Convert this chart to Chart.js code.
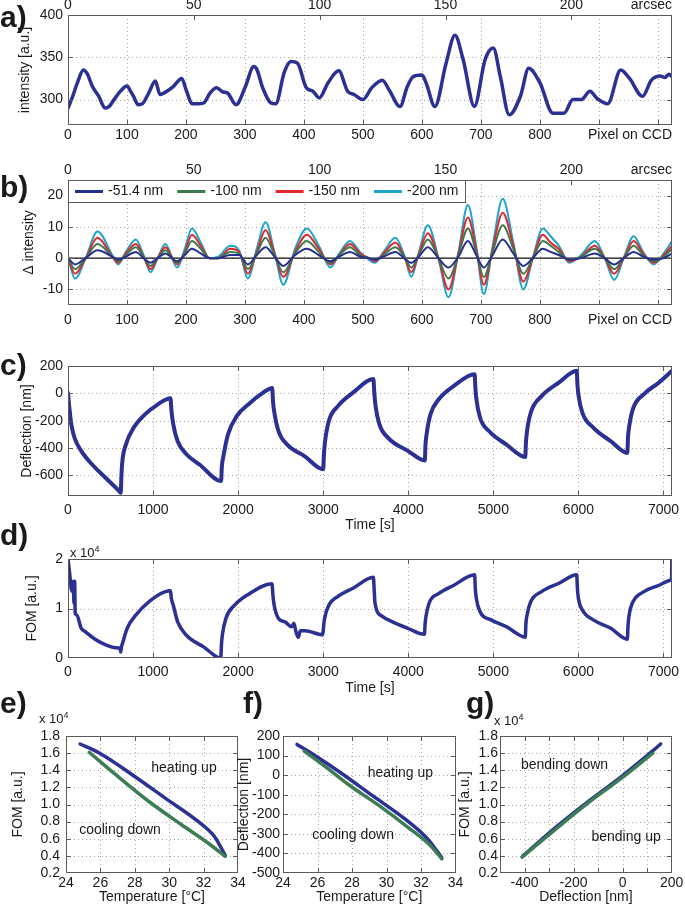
<!DOCTYPE html>
<html>
<head>
<meta charset="utf-8">
<title>Cantilever readout</title>
<script src="https://cdn.jsdelivr.net/npm/chart.js@4.4.1/dist/chart.umd.min.js"></script>
<style>
  body { margin: 0; background: #fff; font-family: "Liberation Sans", Arial, sans-serif; color: #1a1a1a; }
  #page { position: relative; width: 685px; height: 907px; overflow: hidden; background: #fff; }
  canvas { position: absolute; }
  .tag { position: absolute; font-weight: bold; font-size: 30px; line-height: 30px; }
  .exp { position: absolute; font-size: 13px; line-height: 16px; white-space: nowrap; }
  .exp sup { font-size: 9px; }
</style>
</head>
<body>
<div id="page">
  <canvas id="chartA" width="685" height="160" style="left:0;top:0"></canvas>
  <canvas id="chartB" width="685" height="170" style="left:0;top:160px"></canvas>
  <canvas id="chartC" width="685" height="195" style="left:0;top:340px"></canvas>
  <canvas id="chartD" width="685" height="160" style="left:0;top:540px"></canvas>
  <canvas id="chartE" width="250" height="207" style="left:0;top:700px"></canvas>
  <canvas id="chartF" width="237" height="207" style="left:228px;top:700px"></canvas>
  <canvas id="chartG" width="230" height="207" style="left:455px;top:700px"></canvas>

  <div class="tag" style="left:0;top:2px">a)</div>
  <div class="tag" style="left:0;top:172px">b)</div>
  <div class="tag" style="left:0;top:350px">c)</div>
  <div class="tag" style="left:0;top:520px">d)</div>
  <div class="tag" style="left:0;top:688px">e)</div>
  <div class="tag" style="left:243px;top:688px">f)</div>
  <div class="tag" style="left:466px;top:688px">g)</div>

  <div class="exp" style="left:70px;top:541px">x 10<sup>4</sup></div>
  <div class="exp" style="left:39px;top:707px">x 10<sup>4</sup></div>
  <div class="exp" style="left:494px;top:709px">x 10<sup>4</sup></div>
</div>
<script>
// ---- a) intensity along the CCD line ----
const pixA = [0, 7, 16, 26, 33, 41, 52, 63, 70, 78, 89, 100, 106, 111, 119, 126, 137, 148, 156, 163,
  178, 193, 200, 211, 220, 230, 241, 252, 263, 270, 285, 300, 315, 320, 330, 344, 352, 367, 378, 389,
  404, 415, 426, 441, 459, 474, 485, 500, 515, 533, 544, 563, 575, 585, 600, 607, 622, 641, 656, 670,
  689, 707, 721, 733, 748, 767, 781, 800, 822, 841, 856, 870, 885, 896, 915, 937, 952, 974, 989, 1004,
  1012, 1019, 1024];
const intensityA = [290, 302, 320, 335, 330, 316, 304, 290, 292, 300, 310, 316, 310, 304, 294, 295, 308, 322, 306, 308,
  315, 325, 312, 295, 295, 296, 308, 314, 309, 308, 294, 314, 339, 336, 314, 296, 295, 333, 345, 343,
  314, 310, 302, 320, 334, 310, 306, 300, 314, 323, 312, 292, 315, 327, 329, 320, 292, 343, 376, 347,
  292, 347, 361, 327, 282, 304, 337, 320, 284, 284, 300, 300, 310, 302, 295, 335, 325, 304, 323, 328,
  326, 330, 327];

// ---- b) intensity change for each deflection ----
const pixB = [0, 12, 30, 50, 75, 85, 98, 115, 128, 140, 152, 165, 185, 198, 210, 225, 240, 255, 275, 290,
  305, 320, 335, 350, 365, 385, 405, 425, 445, 460, 478, 495, 510, 520, 535, 555, 570, 582, 595, 610,
  628, 645, 662, 678, 692, 705, 720, 737, 755, 772, 788, 805, 818, 832, 850, 870, 893, 910, 926, 942,
  959, 975, 993, 1010, 1024];
const delta51 = [0, -2, 0, 2.5, 0.5, -0.5, 0.5, 2, 0, -1.5, 0, 1.5, -1, 1, 3, 1.5, 0, 0, 1, 1,
  -2, 1, 3.5, 0.5, -2.5, 1, 3, 1, -1, 0.5, 2, 0.5, 0, -0.5, 0.5, 2, 0, -1.5, 0.5, 3.5,
  0, -3, 0.5, 5.5, 1, -3, 1, 6, 1.5, -2.5, 0, 3, 2, 1, -0.5, 0, 1.5, 0, -2, 0,
  2, 0.5, -0.5, 0, 1.5];
const delta100 = [0, -3.5, 0, 4.5, 0.5, -1, 1, 3.5, 0.5, -2.5, 0, 2.5, -1.5, 1.5, 5.5, 3, 0, 0, 2, 1.5,
  -3.5, 1.5, 6.5, 1, -4.5, 1.5, 5.5, 2, -1.5, 1, 3.5, 1, 0, -0.5, 1, 3.5, 0.5, -3, 1, 6,
  0, -6.5, 1, 9.5, 2, -6, 2, 10.5, 3, -5, 0, 5.5, 4, 2, -0.5, 0.5, 3, 0, -3.5, 0,
  4, 1, -1, 0.5, 3];
const delta150 = [0, -5, 0, 6.5, 0.5, -1.5, 1.5, 4.5, 0.5, -3.5, 0, 3.5, -2, 2, 7.5, 4, 0, 0, 3, 2,
  -5, 2, 9, 1.5, -6, 2, 7.5, 3, -2, 1, 4.5, 1.5, 0, -1, 1.5, 5, 0.5, -4.5, 1.5, 8,
  0, -10, 1.5, 13, 3, -8.5, 3, 14.5, 4, -7.5, 0, 7.5, 5, 3, -1, 0.5, 4, 0, -5, 0,
  5.5, 1.5, -1.5, 1, 4];
const delta200 = [0, -6.5, 0, 8.5, 1, -2, 2, 6, 1, -4.5, 0, 4.5, -3, 3, 9.5, 5, 0, 0.5, 4, 2.5,
  -6.5, 3, 11.5, 2, -8.5, 3, 9.5, 4, -3, 1.5, 5.5, 2, -0.5, -1.5, 2, 6.5, 1, -6, 2, 10.5,
  0, -12.5, 2, 17, 4, -11.5, 4, 19, 5, -10, 0, 9.5, 7, 4, -1.5, 1, 5.5, 0, -7, 0,
  7, 2, -2, 1.5, 5.5];
const baselinePix = [0, 1024];
const baselineVal = [0, 0];

// ---- c) deflection over time ----
const timeC = [0, 15, 40, 77, 155, 284, 438, 610, 620, 628, 640, 680, 773, 902, 1057, 1205, 1215, 1237, 1289, 1392,
  1546, 1800, 1808, 1830, 1881, 1985, 2139, 2294, 2400, 2410, 2423, 2474, 2577, 2784, 3000, 3008, 3020, 3067, 3170, 3350,
  3590, 3600, 3615, 3660, 3763, 3995, 4195, 4202, 4215, 4260, 4356, 4536, 4780, 4788, 4800, 4845, 4948, 5155, 5375, 5383,
  5395, 5440, 5567, 5773, 5980, 5988, 6000, 6046, 6175, 6381, 6575, 6583, 6595, 6640, 6770, 6948, 7100];
const deflectionC = [5, -100, -230, -325, -420, -520, -615, -720, -727, -600, -490, -375, -250, -155, -80, -35, -120, -225, -350, -445,
  -520, -640, -540, -450, -300, -165, -70, 5, 40, -60, -130, -275, -375, -460, -555, -450, -360, -200, -95, 5,
  105, 10, -90, -225, -325, -420, -490, -380, -300, -155, -45, 55, 140, 50, -40, -180, -275, -375, -465, -360,
  -280, -140, -20, 80, 165, 70, -10, -140, -250, -350, -435, -320, -250, -115, -5, 80, 165];

// ---- d) figure of merit over time (x 10^4) ----
const timeD = [0, 20, 45, 62, 70, 78, 85, 103, 155, 206, 309, 464, 593, 612, 620, 628, 645, 696, 799, 954,
  1205, 1215, 1237, 1289, 1392, 1598, 1795, 1805, 1814, 1856, 1959, 2113, 2397, 2410, 2423, 2474, 2552, 2629, 2655, 2680,
  2706, 2732, 2784, 2995, 3005, 3015, 3067, 3170, 3350, 3590, 3600, 3608, 3686, 3814, 3995, 4190, 4198, 4210, 4250, 4356,
  4536, 4780, 4788, 4800, 4845, 4974, 5155, 5309, 5375, 5383, 5395, 5438, 5567, 5773, 5980, 5988, 6000, 6046, 6175, 6381,
  6575, 6583, 6595, 6640, 6770, 6948, 7080, 7095, 7098];
const fomD = [2.0, 1.7, 1.35, 1.55, 1.1, 1.55, 0.9, 0.87, 0.6, 0.53, 0.39, 0.25, 0.2, 0.2, 0.12, 0.22, 0.32, 0.6, 0.87, 1.14,
  1.36, 1.2, 1.07, 0.73, 0.46, 0.22, 0.0, 0.3, 0.46, 0.8, 1.07, 1.28, 1.5, 1.25, 1.07, 0.8, 0.73, 0.63, 0.7, 0.53,
  0.42, 0.55, 0.55, 0.47, 0.65, 0.79, 1.07, 1.24, 1.41, 1.63, 1.35, 1.12, 0.85, 0.73, 0.6, 0.48, 0.7, 0.86, 1.13, 1.3,
  1.47, 1.68, 1.4, 1.2, 0.93, 0.77, 0.63, 0.46, 0.42, 0.7, 0.86, 1.13, 1.34, 1.51, 1.68, 1.4, 1.2, 0.97, 0.77, 0.6,
  0.38, 0.65, 0.86, 1.13, 1.34, 1.47, 1.57, 1.62, 2.0];

// ---- e) f) g) heating / cooling branches ----
const tempHeatE = [24.82, 25.96, 27.87, 29.77, 31.68, 32.63, 33.26];
const fomHeatE = [1.707, 1.598, 1.345, 1.074, 0.802, 0.627, 0.406];
const tempCoolE = [25.35, 26.91, 28.82, 30.72, 32.25, 33.26];
const fomCoolE = [1.61, 1.345, 1.035, 0.763, 0.55, 0.394];
const tempHeatF = [24.81, 25.98, 27.3, 29.19, 31.08, 32.4, 33.2];
const deflHeatF = [157, 93, 15, -105, -225, -328, -422];
const tempCoolF = [25.23, 26.36, 27.87, 29.57, 31.26, 32.58, 33.2];
const deflCoolF = [123, 50, -53, -156, -268, -363, -428];
const deflHeatG = [-407, -268, -137, -5, 120, 155];
const fomHeatG = [0.40, 0.744, 1.043, 1.326, 1.62, 1.707];
const deflCoolG = [-410, -268, -137, -5, 123];
const fomCoolG = [0.386, 0.724, 1.027, 1.307, 1.6];

// ---- tick values ----
const pixelTicks = [0, 100, 200, 300, 400, 500, 600, 700, 800, 900, 1000];
const arcsecTicks = [0, 50, 100, 150, 200];
const intensityTicks = [300, 350, 400];
const deltaTicks = [-10, 0, 10, 20];
const timeTicks = [0, 1000, 2000, 3000, 4000, 5000, 6000, 7000];
const deflTicksC = [-600, -400, -200, 0, 200];
const fomTicksD = [0, 1, 2];
const tempTicks = [24, 26, 28, 30, 32, 34];
const fomTicks = [0.2, 0.4, 0.6, 0.8, 1.0, 1.2, 1.4, 1.6, 1.8];
const deflTicksF = [-500, -400, -300, -200, -100, 0, 100, 200];
const deflTicksG = [-400, -300, -200, -100, 0, 100, 200];

const FONT = '"Liberation Sans", Arial, Helvetica, sans-serif';
const INK = '#1a1a1a';
const BOX = '#5a5a5a';
const NAVY = '#2b3092';
const GREEN = '#3d7d55';

Chart.defaults.font.family = FONT;
Chart.defaults.font.size = 14;
Chart.defaults.color = INK;

// MATLAB-like axes: dotted grid, boxed frame, inward ticks, free text
const framePlugin = {
  id: 'frame',
  beforeDatasetsDraw(chart) {
    const {ctx, chartArea: a, scales} = chart;
    ctx.save();
    ctx.strokeStyle = '#a8a8a8';
    ctx.lineWidth = 1;
    ctx.setLineDash([1, 3]);
    ctx.beginPath();
    scales.x.ticks.forEach(t => {
      const px = Math.round(scales.x.getPixelForValue(t.value)) + 0.5;
      if (px < a.left + 2 || px > a.right - 2) return;
      ctx.moveTo(px, a.top); ctx.lineTo(px, a.bottom);
    });
    scales.y.ticks.forEach(t => {
      const py = Math.round(scales.y.getPixelForValue(t.value)) + 0.5;
      if (py < a.top + 2 || py > a.bottom - 2) return;
      ctx.moveTo(a.left, py); ctx.lineTo(a.right, py);
    });
    ctx.stroke();
    ctx.restore();
  },
  afterDatasetsDraw(chart, args, opts) {
    const {ctx, chartArea: a, scales} = chart;
    const tl = 5;
    ctx.save();
    ctx.setLineDash([]);
    ctx.strokeStyle = BOX;
    ctx.lineWidth = 1;
    ctx.strokeRect(Math.round(a.left) + 0.5, Math.round(a.top) + 0.5,
      Math.round(a.right - a.left) - 1, Math.round(a.bottom - a.top) - 1);
    ctx.beginPath();
    scales.x.ticks.forEach(t => {
      const px = Math.round(scales.x.getPixelForValue(t.value)) + 0.5;
      if (px < a.left + 2 || px > a.right - 2) return;
      ctx.moveTo(px, a.bottom); ctx.lineTo(px, a.bottom - tl);
      if (!scales.x2) { ctx.moveTo(px, a.top); ctx.lineTo(px, a.top + tl); }
    });
    if (scales.x2) {
      scales.x2.ticks.forEach(t => {
        const px = Math.round(scales.x2.getPixelForValue(t.value)) + 0.5;
        if (px < a.left + 2 || px > a.right - 2) return;
        ctx.moveTo(px, a.top); ctx.lineTo(px, a.top + tl);
      });
    }
    scales.y.ticks.forEach(t => {
      const py = Math.round(scales.y.getPixelForValue(t.value)) + 0.5;
      if (py < a.top + 2 || py > a.bottom - 2) return;
      ctx.moveTo(a.left, py); ctx.lineTo(a.left + tl, py);
      ctx.moveTo(a.right, py); ctx.lineTo(a.right - tl, py);
    });
    ctx.stroke();

    ctx.font = '14px ' + FONT;
    ctx.textBaseline = 'middle';

    if (opts.legend) {
      const items = chart.data.datasets.filter(d => d.label);
      const sample = 28, gap = 5, step = 14, h = 22;
      let w = 7;
      items.forEach(d => { w += sample + gap + ctx.measureText(d.label).width + step; });
      w = w - step + 7;
      ctx.fillStyle = '#fff';
      ctx.fillRect(a.left, a.top, w, h);
      ctx.strokeStyle = BOX;
      ctx.lineWidth = 1;
      ctx.strokeRect(Math.round(a.left) + 0.5, Math.round(a.top) + 0.5, Math.round(w), h);
      let x = a.left + 7;
      const ym = a.top + h / 2 + 0.5;
      items.forEach(d => {
        ctx.strokeStyle = d.borderColor;
        ctx.lineWidth = 3;
        ctx.beginPath(); ctx.moveTo(x, ym); ctx.lineTo(x + sample, ym); ctx.stroke();
        ctx.fillStyle = INK;
        ctx.textAlign = 'left';
        ctx.fillText(d.label, x + sample + gap, ym);
        x += sample + gap + ctx.measureText(d.label).width + step;
      });
    }

    ctx.fillStyle = INK;
    (opts.texts || []).forEach(t => {
      let x, y;
      if (t.corner === 'bottom') { x = a.right; y = a.bottom + t.dy; ctx.textAlign = 'right'; }
      else if (t.corner === 'top') { x = a.right; y = a.top - t.dy; ctx.textAlign = 'right'; }
      else { x = scales.x.getPixelForValue(t.x); y = scales.y.getPixelForValue(t.y); ctx.textAlign = 'center'; }
      ctx.fillText(t.text, x, y);
    });
    ctx.restore();
  }
};
Chart.register(framePlugin);

function series(xs, ys, color, width, extra) {
  return Object.assign({
    data: xs.map((x, i) => ({x: x, y: ys[i]})),
    borderColor: color,
    borderWidth: width,
    pointRadius: 0,
    fill: false,
    borderJoinStyle: 'round',
    borderCapStyle: 'round'
  }, extra || {});
}

function axisOptions(ax, position, fit) {
  const font = {family: FONT, size: 14};
  return {
    type: 'linear',
    position: position,
    min: ax.min,
    max: ax.max,
    grid: {display: false, drawTicks: false, tickLength: 0},
    border: {display: false},
    afterBuildTicks: s => { s.ticks = ax.ticks.map(v => ({value: v})); },
    afterFit: fit,
    ticks: {
      padding: ax.pad,
      autoSkip: false,
      maxRotation: 0,
      minRotation: 0,
      font: font,
      color: INK,
      callback: ax.label || (v => String(v))
    },
    title: {
      display: !!ax.title,
      text: ax.title || '',
      font: font,
      color: INK,
      padding: position === 'left' ? {top: ax.titlePad || 0, bottom: 0} : {top: 0, bottom: ax.titlePad || 0}
    }
  };
}

function panel(id, p) {
  const cv = document.getElementById(id);
  const W = cv.width, H = cv.height, A = p.area;
  const scales = {
    x: axisOptions(p.x, 'bottom', s => { s.height = H - A.bottom; }),
    y: axisOptions(p.y, 'left', s => { s.width = A.left; })
  };
  if (p.x2) scales.x2 = axisOptions(p.x2, 'top', s => { s.height = A.top; });
  return new Chart(cv, {
    type: 'line',
    data: {datasets: p.datasets},
    options: {
      responsive: false,
      animation: false,
      events: [],
      layout: {padding: {left: 0, top: p.x2 ? 0 : A.top, right: W - A.right, bottom: 0}},
      plugins: {
        legend: {display: false},
        tooltip: {enabled: false},
        frame: {texts: p.texts || [], legend: !!p.legend}
      },
      scales: scales
    }
  });
}

const hidePixelEnd = v => (v >= 900 ? '' : String(v));
const monotone = {cubicInterpolationMode: 'monotone'};

// a)
panel('chartA', {
  area: {left: 68, right: 672, top: 15, bottom: 125},
  x: {min: 0, max: 1024, ticks: pixelTicks, pad: 2, label: hidePixelEnd},
  x2: {min: 0, max: 240, ticks: arcsecTicks, pad: 1.6},
  y: {min: 270, max: 400, ticks: intensityTicks, pad: 5, title: 'intensity [a.u.]', titlePad: 17},
  datasets: [series(pixA, intensityA, NAVY, 3.5, monotone)],
  texts: [{text: 'Pixel on CCD', corner: 'bottom', dy: 10.4}, {text: 'arcsec', corner: 'top', dy: 10}]
});

// b)
panel('chartB', {
  area: {left: 68, right: 672, top: 20, bottom: 145},
  x: {min: 0, max: 1024, ticks: pixelTicks, pad: 6.6, label: hidePixelEnd},
  x2: {min: 0, max: 240, ticks: arcsecTicks, pad: 1.6},
  y: {min: -15, max: 25, ticks: deltaTicks, pad: 5, title: 'Δ intensity', titlePad: 21},
  legend: true,
  datasets: [
    series(pixB, delta51, '#262f8e', 2, {label: '-51.4 nm', cubicInterpolationMode: 'monotone'}),
    series(pixB, delta100, '#3b7a4f', 2, {label: '-100 nm', cubicInterpolationMode: 'monotone'}),
    series(pixB, delta150, '#e3262b', 2, {label: '-150 nm', cubicInterpolationMode: 'monotone'}),
    series(pixB, delta200, '#1ea3c9', 2, {label: '-200 nm', cubicInterpolationMode: 'monotone'}),
    series(baselinePix, baselineVal, '#111', 1.2)
  ],
  texts: [{text: 'Pixel on CCD', corner: 'bottom', dy: 15}, {text: 'arcsec', corner: 'top', dy: 10}]
});

// c)
panel('chartC', {
  area: {left: 68, right: 672, top: 26, bottom: 156},
  x: {min: 0, max: 7100, ticks: timeTicks, pad: 5.6, title: 'Time [s]', titlePad: 1.6},
  y: {min: -750, max: 200, ticks: deflTicksC, pad: 5, title: 'Deflection [nm]', titlePad: 19},
  datasets: [series(timeC, deflectionC, NAVY, 4, monotone)]
});

// d)
panel('chartD', {
  area: {left: 68, right: 672, top: 19, bottom: 118},
  x: {min: 0, max: 7100, ticks: timeTicks, pad: 5.6, title: 'Time [s]', titlePad: 3.6},
  y: {min: 0, max: 2, ticks: fomTicksD, pad: 5, title: 'FOM [a.u.]', titlePad: 24},
  datasets: [series(timeD, fomD, NAVY, 3.5, monotone)]
});

const oneDecimal = v => v.toFixed(1);

// e)
panel('chartE', {
  area: {left: 66, right: 238, top: 36, bottom: 173},
  x: {min: 24, max: 34, ticks: tempTicks, pad: 1.6, title: 'Temperature [°C]', titlePad: 1.6},
  y: {min: 0.2, max: 1.8, ticks: fomTicks, pad: 6, title: 'FOM [a.u.]', titlePad: 10, label: oneDecimal},
  datasets: [
    series(tempCoolE, fomCoolE, GREEN, 3.5, monotone),
    series(tempHeatE, fomHeatE, NAVY, 3.5, monotone)
  ],
  texts: [{text: 'heating up', x: 30.86, y: 1.43}, {text: 'cooling down', x: 27.14, y: 0.70}]
});

// f)
panel('chartF', {
  area: {left: 55, right: 230, top: 36, bottom: 173},
  x: {min: 24, max: 34, ticks: tempTicks, pad: 1.6, title: 'Temperature [°C]', titlePad: 1.6},
  y: {min: -500, max: 200, ticks: deflTicksF, pad: 3, title: 'Deflection [nm]', titlePad: 8},
  datasets: [
    series(tempCoolF, deflCoolF, GREEN, 3.5, monotone),
    series(tempHeatF, deflHeatF, NAVY, 3.5, monotone)
  ],
  texts: [{text: 'heating up', x: 30.8, y: 11}, {text: 'cooling down', x: 28.06, y: -306}]
});

// g)
panel('chartG', {
  area: {left: 45, right: 218, top: 36, bottom: 173},
  x: {min: -500, max: 200, ticks: deflTicksG, pad: 1.6, title: 'Deflection [nm]', titlePad: 1.6,
      label: v => (v % 200 === 0 ? String(v) : '')},
  y: {min: 0.2, max: 1.8, ticks: fomTicks, pad: 2, title: 'FOM [a.u.]', titlePad: 2, label: oneDecimal},
  datasets: [
    series(deflCoolG, fomCoolG, GREEN, 3.5, monotone),
    series(deflHeatG, fomHeatG, NAVY, 3.5, monotone)
  ],
  texts: [{text: 'bending down', x: -237, y: 1.46}, {text: 'bending up', x: 14, y: 0.62}]
});
</script>
</body>
</html>
